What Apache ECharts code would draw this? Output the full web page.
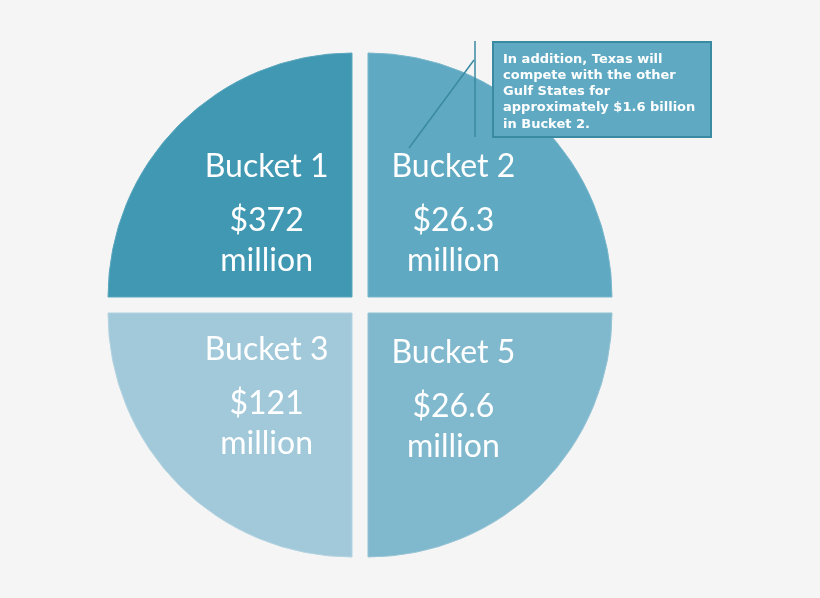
<!DOCTYPE html>
<html><head><meta charset="utf-8">
<script src="https://cdn.jsdelivr.net/npm/echarts@6/dist/echarts.min.js"></script>
<style>html,body{margin:0;padding:0;background:#f5f5f5}#c{width:820px;height:598px}</style>
</head><body><div id="c"></div>
<script>
// Quadrant order drawn clockwise from 9 o'clock
const categories = ['Bucket 1', 'Bucket 2', 'Bucket 5', 'Bucket 3'];
const amounts = ['$372', '$26.3', '$26.6', '$121'];
const units = ['million', 'million', 'million', 'million'];
// Each bucket is drawn as an equal quarter of the circle
const shares = [25, 25, 25, 25];
const colors = ['#4198b2', '#5fa9c2', '#80b8cd', '#a1c9da'];
const borders = ['#5aa7be', '#78b7cc', '#95c4d5', '#b3d3e1'];
const labelPads = [[0, 0, 4, 6], [0, 6, 4, 0], [0, 6, 18, 0], [0, 0, 24, 6]];
const note = ['In addition, Texas will', 'compete with the other', 'Gulf States for', 'approximately $1.6 billion', 'in Bucket 2.'];

const chart = echarts.init(document.getElementById('c'));
chart.setOption({
  backgroundColor: '#f5f5f5',
  animation: false,
  series: [{
    type: 'pie',
    center: [360, 305],
    radius: [0, 244],
    startAngle: 180,
    clockwise: true,
    selectedMode: 'multiple',
    selectedOffset: 11.3,
    emphasis: { disabled: true },
    label: {
      position: 'inner',
      formatter: p => '{a|' + p.name + '}\n{b|' + amounts[p.dataIndex] + '}\n{b|' + units[p.dataIndex] + '}',
      rich: {
        a: { fontFamily: 'Lato', fontSize: 32, color: '#fff', lineHeight: 68 },
        b: { fontFamily: 'Lato', fontSize: 32, color: '#fff', lineHeight: 40 }
      }
    },
    labelLine: { show: false },
    data: categories.map((c, i) => ({
      name: c, value: shares[i], selected: true,
      label: { padding: labelPads[i] },
      itemStyle: { color: colors[i], borderColor: borders[i], borderWidth: 1 }
    }))
  }],
  graphic: [
    { type: 'line', z: 100, shape: { x1: 475, y1: 41, x2: 475, y2: 137 }, style: { stroke: '#3a8aa1', lineWidth: 1.5 } },
    { type: 'line', z: 100, shape: { x1: 474, y1: 60, x2: 409, y2: 148 }, style: { stroke: '#3a8aa1', lineWidth: 1.5 } },
    { type: 'rect', z: 100, shape: { x: 493, y: 42, width: 218, height: 95 }, style: { fill: '#5fa9c2', stroke: '#3a8aa1', lineWidth: 2 } },
    { type: 'text', z: 101, left: 503, top: 51, style: { text: note.join('\n'), fill: '#fff', font: 'bold 13px "DejaVu Sans"', lineHeight: 16.3 } }
  ]
});
</script></body></html>
